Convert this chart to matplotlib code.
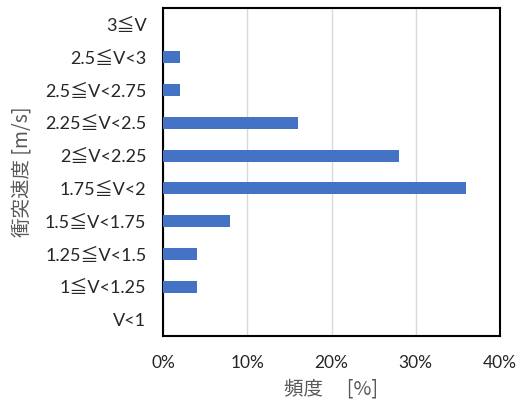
import matplotlib
matplotlib.use('Agg')
import matplotlib.pyplot as plt
import numpy as np

plt.rcParams['font.family'] = ['Noto Sans CJK JP', 'DejaVu Sans']

categories = ['V<1', '1≦V<1.25', '1.25≦V<1.5', '1.5≦V<1.75', '1.75≦V<2',
              '2≦V<2.25', '2.25≦V<2.5', '2.5≦V<2.75', '2.5≦V<3', '3≦V']
freq = [0, 4, 4, 8, 36, 28, 16, 2, 2, 0]
xticks = [0, 10, 20, 30, 40]
xticklabels = ['0%', '10%', '20%', '30%', '40%']

tick_font = ['Lato', 'Noto Sans CJK JP', 'DejaVu Sans']

fig = plt.figure(figsize=(5.2, 4.08), dpi=100)
ax = fig.add_axes([163/520, 72/408, 337/520, 328/408])

y = np.arange(len(categories))
ax.barh(y, freq, height=0.36, color='#4472C4', zorder=3)

ax.set_xlim(0, 40)
ax.set_ylim(-0.5, len(categories) - 0.5)
ax.set_xticks(xticks)
ax.set_xticklabels(xticklabels, fontsize=12.5, color='#262626', family=tick_font)
ax.set_yticks(y)
ax.set_yticklabels(categories, fontsize=13, color='#262626', family=tick_font)
ax.tick_params(axis='both', length=0)
ax.tick_params(axis='x', pad=14)
ax.tick_params(axis='y', pad=12)
ax.grid(axis='x', color='#d9d9d9', linewidth=1, zorder=0)
for s in ax.spines.values():
    s.set_color('black')
    s.set_linewidth(1.5)

ax.set_xlabel('頻度\u3000 [%]', fontsize=14, color='#595959', labelpad=5)
ax.set_ylabel('衝突速度 [m/s]', fontsize=14, color='#595959', labelpad=8)

fig.savefig('out.png', dpi=100)
